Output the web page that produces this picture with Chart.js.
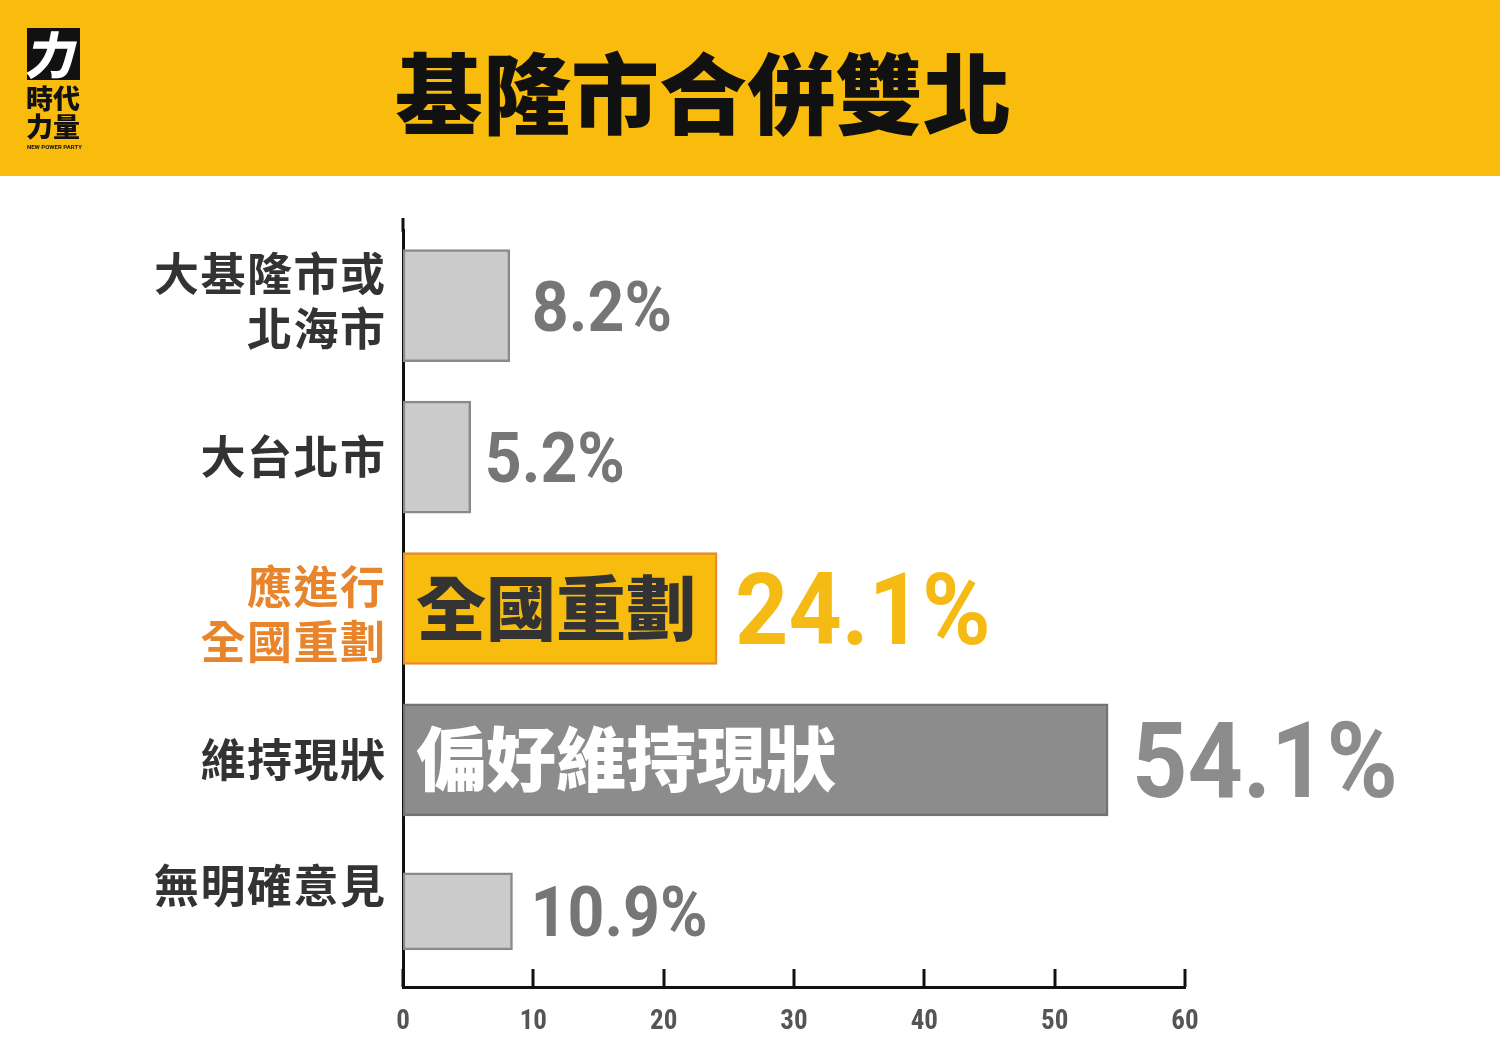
<!DOCTYPE html>
<html>
<head>
<meta charset="utf-8">
<script src="https://cdn.jsdelivr.net/npm/chart.js@4/dist/chart.umd.min.js"></script>
<style>
  html, body { margin: 0; padding: 0; background: #fff; }
  #wrap { width: 1500px; height: 1062px; }
</style>
</head>
<body>
<div id="wrap"><canvas id="c" width="1500" height="1062"></canvas></div>
<script>
// ---- data ----
const titleText = '基隆市合併雙北';
const categories = [['大基隆市或', '北海市'], '大台北市', ['應進行', '全國重劃'], '維持現狀', '無明確意見'];
const barValues = [8.2, 5.2, 24.1, 54.1, 8.4];
const valueLabels = ['8.2%', '5.2%', '24.1%', '54.1%', '10.9%'];
const innerLabels = ['', '', '全國重劃', '偏好維持現狀', ''];
const xTickMax = 60;
const xTickStep = 10;

// ---- styles ----
const CJK = '"Noto Sans CJK TC", "Noto Sans CJK SC", sans-serif';
const NUM = 'Roboto, "Liberation Sans", sans-serif';
const fillColors = ['#CBCBCB', '#CBCBCB', '#F8BC0E', '#8C8C8C', '#CBCBCB'];
const borderColors = ['#8A8A8A', '#8A8A8A', '#EC8A2C', '#727272', '#8A8A8A'];
const catColors = ['#333333', '#333333', '#E8842C', '#333333', '#333333'];
const valueColors = ['#767676', '#767676', '#F6BA14', '#8C8C8C', '#767676'];
const valueSizes = [70, 70, 101, 105, 70];
const valueGaps = [22, 14, 18, 24, 18];
const innerColors = ['', '', '#333333', '#FFFFFF', ''];

const mainData = barValues.map((v, i) => i < barValues.length - 1 ? v : null);
const lastData = barValues.map((v, i) => i === barValues.length - 1 ? v : null);

const decor = {
  id: 'decor',
  beforeDraw(chart) {
    const ctx = chart.ctx;
    ctx.save();
    ctx.fillStyle = '#ffffff';
    ctx.fillRect(0, 0, chart.width, chart.height);
    ctx.fillStyle = '#F9BC0C';
    ctx.fillRect(0, 0, chart.width, 176);
    // title
    ctx.fillStyle = '#111111';
    ctx.font = '900 88px ' + CJK;
    ctx.textAlign = 'center';
    ctx.textBaseline = 'middle';
    ctx.fillText(titleText, 703, 94);
    // logo
    ctx.fillStyle = '#111111';
    ctx.fillRect(27, 28, 53, 52);
    ctx.save();
    ctx.translate(53, 55);
    ctx.transform(1, 0, -0.2, 1, 0, 0);
    ctx.fillStyle = '#ffffff';
    ctx.font = '900 50px ' + CJK;
    ctx.fillText('力', 0, 0);
    ctx.restore();
    ctx.fillStyle = '#111111';
    ctx.font = '900 27px ' + CJK;
    ctx.textAlign = 'left';
    ctx.fillText('時代', 26, 99);
    ctx.fillText('力量', 26, 127);
    ctx.font = 'bold 6px ' + NUM;
    ctx.fillText('NEW POWER PARTY', 27, 147);
    ctx.restore();
  },
  afterDatasetsDraw(chart) {
    const ctx = chart.ctx;
    const xs = chart.scales.x, ys = chart.scales.y;
    const area = chart.chartArea;
    ctx.save();
    // y axis line extension above chart area
    ctx.strokeStyle = '#111111';
    ctx.lineWidth = 3;
    ctx.beginPath();
    ctx.moveTo(area.left, 218);
    ctx.lineTo(area.left, area.top + 2);
    ctx.stroke();
    // inward x ticks
    for (let v = 0; v <= xTickMax; v += xTickStep) {
      const px = Math.round(xs.getPixelForValue(v));
      ctx.beginPath();
      ctx.moveTo(px, area.bottom - 18);
      ctx.lineTo(px, area.bottom);
      ctx.stroke();
    }
    // category labels
    ctx.textAlign = 'right';
    ctx.textBaseline = 'middle';
    ctx.font = 'bold 45px ' + CJK;
    categories.forEach((c, i) => {
      let cy = ys.getPixelForValue(i);
      if (i === 0) cy -= 4;
      if (i === 2) cy += 6;
      if (i === categories.length - 1) cy -= 25;
      ctx.fillStyle = catColors[i];
      const lines = Array.isArray(c) ? c : [c];
      const lh = 55;
      lines.forEach((ln, k) => {
        const y = cy + (k - (lines.length - 1) / 2) * lh;
        let x = 385;
        const chars = Array.from(ln);
        const sp = 1.5;
        for (let j = chars.length - 1; j >= 0; j--) {
          ctx.fillText(chars[j], x, y);
          x -= ctx.measureText(chars[j]).width + sp;
        }
      });
    });
    // value labels & inner labels
    const metas = [chart.getDatasetMeta(0), chart.getDatasetMeta(1)];
    barValues.forEach((v, i) => {
      const el = (mainData[i] !== null) ? metas[0].data[i] : metas[1].data[i];
      const endX = el.x;
      const cy = el.y;
      const size = valueSizes[i];
      ctx.save();
      ctx.translate(endX + valueGaps[i], cy + 0.355 * size);
      ctx.scale(0.92, 1);
      ctx.textAlign = 'left';
      ctx.textBaseline = 'alphabetic';
      ctx.fillStyle = valueColors[i];
      ctx.font = 'bold ' + size + 'px ' + NUM;
      ctx.fillText(valueLabels[i], 0, 0);
      ctx.restore();
      if (innerLabels[i]) {
        ctx.fillStyle = innerColors[i];
        ctx.font = '900 70px ' + CJK;
        ctx.textAlign = 'left';
        ctx.textBaseline = 'middle';
        ctx.fillText(innerLabels[i], area.left + 13, cy);
      }
    });
    ctx.restore();
  }
};

new Chart(document.getElementById('c'), {
  type: 'bar',
  data: {
    labels: categories,
    datasets: [
      {
        data: mainData,
        backgroundColor: fillColors,
        borderColor: borderColors,
        borderWidth: 2.5,
        borderSkipped: false,
        barThickness: 112
      },
      {
        data: lastData,
        backgroundColor: fillColors,
        borderColor: borderColors,
        borderWidth: 2.5,
        borderSkipped: false,
        barThickness: 77
      }
    ]
  },
  options: {
    indexAxis: 'y',
    responsive: false,
    animation: false,
    devicePixelRatio: 1,
    layout: { padding: { left: 403, right: 315, top: 230, bottom: 0 } },
    plugins: { legend: { display: false }, tooltip: { enabled: false } },
    scales: {
      x: {
        stacked: true,
        min: 0,
        max: xTickMax,
        ticks: {
          stepSize: xTickStep,
          color: '#555555',
          padding: 19,
          maxRotation: 0,
          font: { family: '"Liberation Sans Narrow", "Roboto Condensed", Roboto, sans-serif', weight: 'bold', size: 27 }
        },
        grid: { display: false, drawTicks: false, tickLength: 0 },
        border: { display: true, color: '#111111', width: 3 },
        afterFit: s => { s.height = 75; }
      },
      y: {
        stacked: true,
        ticks: { display: false },
        grid: { display: false, drawTicks: false, tickLength: 0 },
        border: { display: true, color: '#111111', width: 3 },
        afterFit: s => { s.width = 0; }
      }
    }
  },
  plugins: [decor]
});
</script>
</body>
</html>
